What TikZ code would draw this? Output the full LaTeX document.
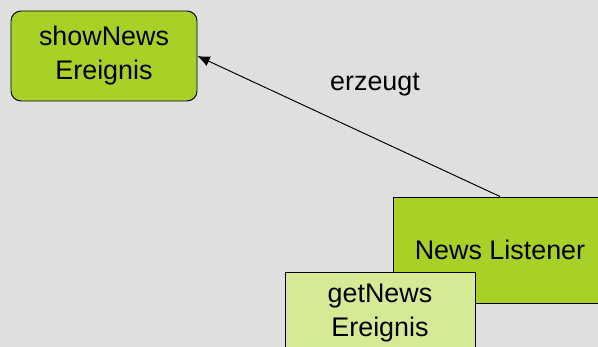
\documentclass[tikz,border=0pt]{standalone}
\usepackage{fontspec}
\setmainfont{Liberation Sans}
\usetikzlibrary{arrows.meta}
\definecolor{bggray}{RGB}{223,223,223}
\definecolor{darkgreen}{RGB}{168,208,38}
\definecolor{lightgreen}{RGB}{214,234,150}

\def\lw{.55pt}

\begin{document}
\begin{tikzpicture}
  \tikzset{event/.style={align=center,line width=\lw,draw,font=\fontsize{15.3}{19.4}\selectfont}}

  \fill[bggray] (0,0) rectangle (11.96,6.94);
  \useasboundingbox (0,0) rectangle (11.96,6.94);

  \node[event,fill=darkgreen,rounded corners=.2cm,minimum width=3.72cm,minimum height=1.8cm] (show) at (2.08,5.82) {showNews\\Ereignis};
  \node[event,fill=darkgreen,minimum width=4.28cm,minimum height=2.12cm] (listener) at (10.0,1.94) {News Listener};
  \node[event,fill=lightgreen,minimum width=3.8cm,minimum height=1.64cm] (get) at (7.6,0.68) {getNews\\Ereignis};

  \draw[-{Latex[length=7pt,width=6pt]},line width=\lw] (listener.north) -- (show.east);
  \node[font=\fontsize{15.3}{18}\selectfont] (label) at (7.5,5.24) {erzeugt};
\end{tikzpicture}
\end{document}
